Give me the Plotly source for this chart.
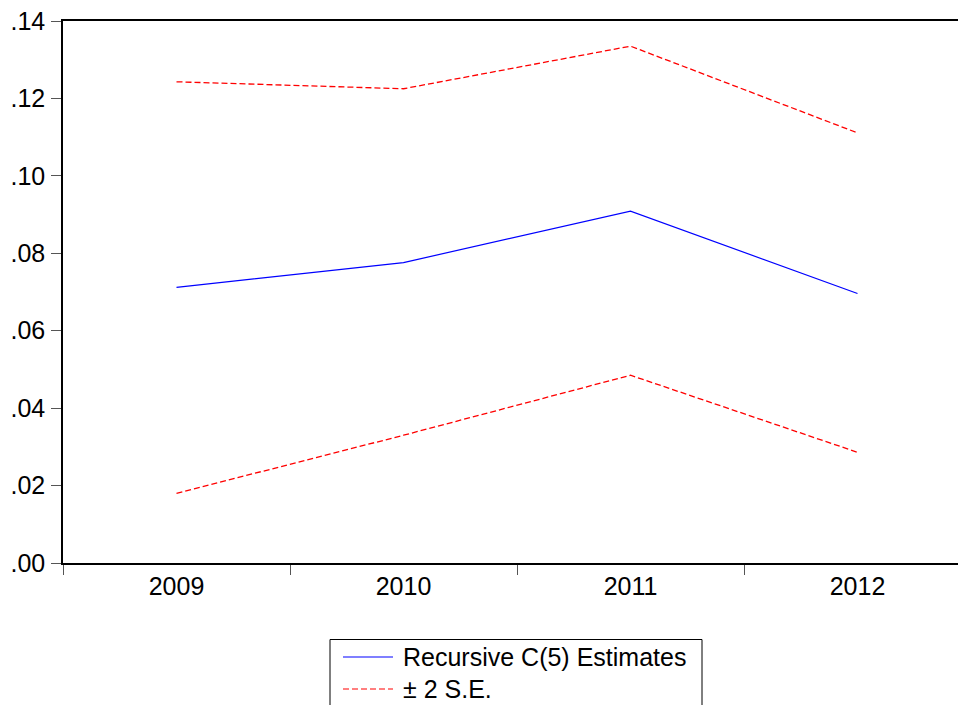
import plotly.graph_objects as go

years = ["2009", "2010", "2011", "2012"]
estimate = [0.0712, 0.0776, 0.0909, 0.0696]
upper_se = [0.1243, 0.1225, 0.1335, 0.1111]
lower_se = [0.0180, 0.0330, 0.0485, 0.0286]
y_tickvals = [0.00, 0.02, 0.04, 0.06, 0.08, 0.10, 0.12, 0.14]
y_ticktext = [".00", ".02", ".04", ".06", ".08", ".10", ".12", ".14"]
legend_labels = ["Recursive C(5) Estimates", "± 2 S.E."]

W, H = 958, 705
L, T, R, B = 63, 21, 0, 142
PW, PH = W - L - R, H - T - B
FONT = "Liberation Sans, Arial, sans-serif"
DASH = "6px,3px"

def px2paper(px, py):
    return (px - L) / PW, (H - B - py) / PH

fig = go.Figure()
fig.add_trace(go.Scatter(x=years, y=upper_se, mode="lines", name=legend_labels[1],
                         line=dict(color="#ff0000", width=1.3, dash=DASH)))
fig.add_trace(go.Scatter(x=years, y=lower_se, mode="lines", name=legend_labels[1],
                         line=dict(color="#ff0000", width=1.3, dash=DASH)))
fig.add_trace(go.Scatter(x=years, y=estimate, mode="lines", name=legend_labels[0],
                         line=dict(color="#0000ff", width=1.2)))

band = 227.0
xmax = -0.5 + PW / band

fig.update_layout(
    width=W, height=H,
    margin=dict(l=L, r=R, t=T, b=B, autoexpand=False),
    paper_bgcolor="white", plot_bgcolor="white",
    showlegend=False,
    font=dict(family=FONT, size=25, color="black"),
    xaxis=dict(type="category", range=[-0.5, xmax], tickson="boundaries",
               ticks="outside", ticklen=10, tickwidth=1, tickcolor="#555555",
               showline=True, linecolor="black", linewidth=1.5, mirror=True,
               showgrid=False, zeroline=False,
               tickfont=dict(family=FONT, size=25, color="black")),
    yaxis=dict(range=[0, 0.14], tickvals=y_tickvals, ticktext=y_ticktext,
               ticks="outside", ticklen=10, tickwidth=1, tickcolor="#555555",
               ticklabelstandoff=1,
               showline=True, linecolor="black", linewidth=1.5,
               showgrid=False, zeroline=False,
               tickfont=dict(family=FONT, size=25, color="black")),
)

bx0, by0 = px2paper(330, 639.5)
bx1, by1 = px2paper(702, 720)
fig.add_shape(type="rect", xref="paper", yref="paper", x0=bx0, x1=bx1, y0=by1, y1=by0,
              line=dict(color="black", width=1), fillcolor="white", layer="above")
rows = [(657, "#0000ff", "solid"), (689, "#ff0000", DASH)]
for (ry, col, dash), label in zip(rows, legend_labels):
    lx0, ly = px2paper(343, ry)
    lx1, _ = px2paper(393, ry)
    fig.add_shape(type="line", xref="paper", yref="paper", x0=lx0, x1=lx1, y0=ly, y1=ly,
                  line=dict(color=col, width=1.2, dash=dash), layer="above")
    tx, _ = px2paper(401, ry)
    fig.add_annotation(xref="paper", yref="paper", x=tx, y=ly, text=label, showarrow=False,
                       xanchor="left", yanchor="middle",
                       font=dict(family=FONT, size=25, color="black"))

fig.write_html("out.html")
